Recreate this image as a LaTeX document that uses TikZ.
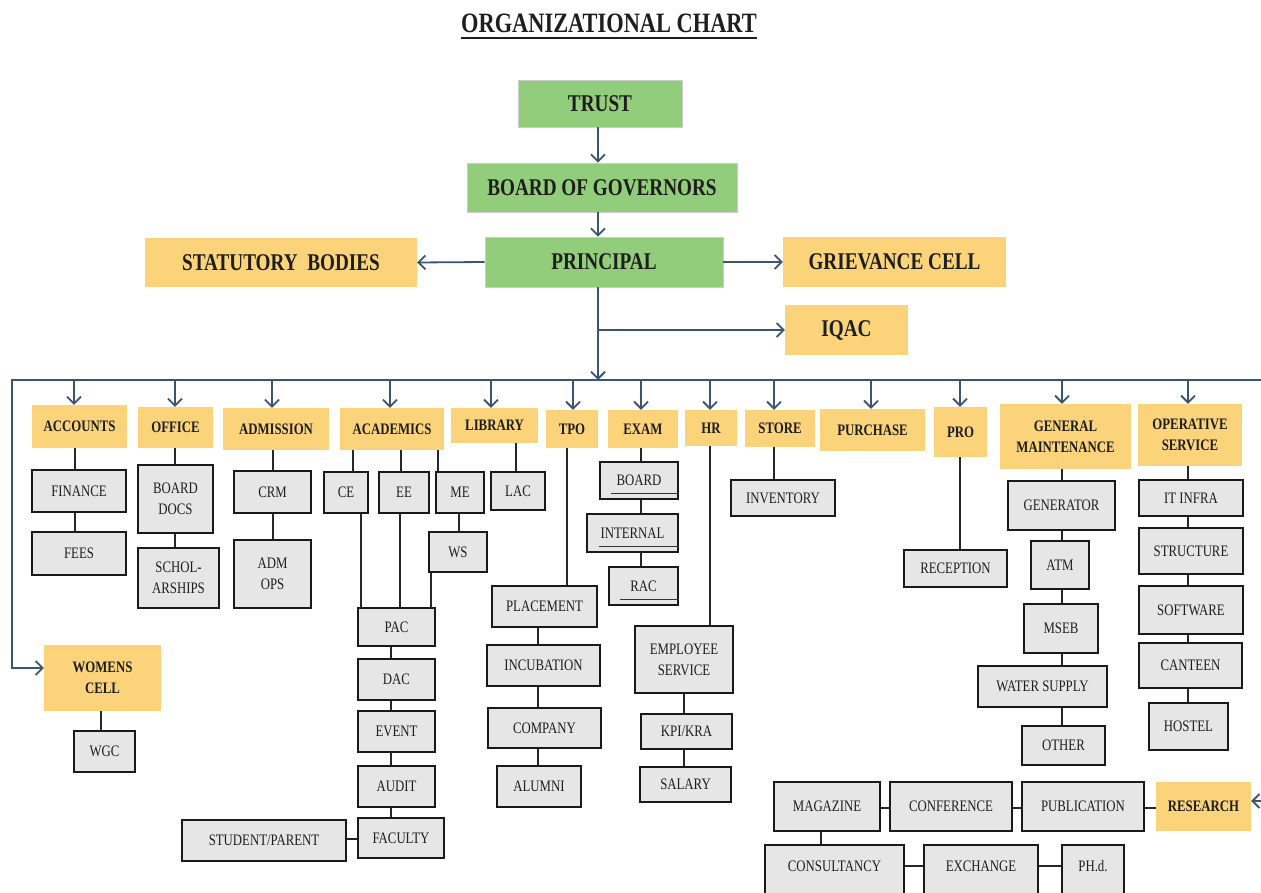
\documentclass[tikz,border=0pt]{standalone}
\usepackage{fontspec}
\setmainfont{Liberation Serif}[FakeStretch=0.8]
\usetikzlibrary{arrows.meta,calc}
\definecolor{gfill}{RGB}{146,205,123}
\definecolor{ofill}{RGB}{250,211,122}
\definecolor{bfill}{RGB}{230,230,230}
\definecolor{barr}{RGB}{58,84,116}
\definecolor{tcol}{RGB}{30,30,30}
\newcommand\bx[7]{\node[#1, minimum width={(#5)-(#3)}, minimum height={(#6)-(#4)}] (#2) at ({((#3)+(#5))/2},{((#4)+(#6))/2}) {#7};}
\newcommand\vlink[3]{\draw[link] (#1.south -| #3,0) -- (#2.north -| #3,0);}
\newcommand\hlink[3]{\draw[link] (#1.west |- 0,#3) -- (#2.east |- 0,#3);}
\newcommand\drop[2]{\draw[arr] (busL -| #2,0) -- (#1.north -| #2,0);}
\begin{document}
\begin{tikzpicture}[x=1pt,y=-1pt,
 greenbox/.style={fill=gfill,draw=black!20,line width=0.8pt,inner sep=0pt,align=center,font=\fontsize{24}{28}\selectfont\bfseries,text=tcol},
 bigorange/.style={fill=ofill,inner sep=0pt,align=center,font=\fontsize{24}{28}\selectfont\bfseries,text=tcol},
 orangebox/.style={fill=ofill,inner sep=0pt,align=center,font=\fontsize{16}{21}\selectfont\bfseries,text=tcol},
 greybox/.style={fill=bfill,draw=black!90,line width=2.5pt,inner sep=0pt,align=center,font=\fontsize{16}{21}\selectfont,text=tcol},
 lowtext/.style={text depth=18pt},
 arr/.style={draw=barr,line width=1.8pt,-{Straight Barb[length=7pt,width=14pt,line width=1.8pt]}},
 link/.style={draw=black!85,line width=2pt},
 uline/.style={draw=black!80,line width=1.2pt}]
\useasboundingbox (0,0) rectangle (1261,893);
\clip (0,0) rectangle (1261,893);
\fill[white] (0,0) rectangle (1261,893);

% title
\node[font=\fontsize{28}{32}\selectfont\bfseries,text=tcol,inner sep=0pt,anchor=base] (title) at (609,33) {ORGANIZATIONAL CHART};
\draw[tcol,line width=2pt] ($(title.base west)+(0,5)$) -- ($(title.base east)+(0,5)$);

% top
\bx{greenbox}{trust}{518}{80}{682}{127}{TRUST}
\bx{greenbox}{bog}{467}{163}{737}{212}{BOARD OF GOVERNORS}
\bx{greenbox}{prin}{485}{237}{723}{287}{PRINCIPAL}
\bx{bigorange}{stat}{145}{238}{417}{287}{STATUTORY\ \ BODIES}
\bx{bigorange}{griev}{783}{237}{1006}{287}{GRIEVANCE CELL}
\bx{bigorange}{iqac}{785}{305}{908}{355}{IQAC}

% departments
\bx{orangebox}{acc}{32}{405}{127}{448}{ACCOUNTS}
\bx{orangebox}{off}{138}{407}{213}{448}{OFFICE}
\bx{orangebox}{adm}{223}{408}{329}{450}{ADMISSION}
\bx{orangebox}{acad}{340}{408}{444}{450}{ACADEMICS}
\bx{orangebox}{lib}{451}{408}{538}{443}{LIBRARY}
\bx{orangebox}{tpo}{546}{410}{598}{448}{TPO}
\bx{orangebox}{exam}{608}{410}{678}{448}{EXAM}
\bx{orangebox}{hr}{685}{410}{737}{446}{HR}
\bx{orangebox}{store}{745}{410}{815}{447}{STORE}
\bx{orangebox}{pur}{820}{409}{925}{451}{PURCHASE}
\bx{orangebox}{pro}{934}{407}{987}{457}{PRO}
\bx{orangebox}{gm}{1000}{404}{1131}{469}{GENERAL\\MAINTENANCE}
\bx{orangebox}{ops}{1138}{404}{1242}{466}{OPERATIVE\\SERVICE}
\bx{orangebox}{wom}{44}{645}{161}{711}{WOMENS\\CELL}
\bx{orangebox}{res}{1156}{782}{1251}{831}{RESEARCH}

% sub units
\bx{greybox}{fin}{32}{470}{126}{512}{FINANCE}
\bx{greybox}{fees}{32}{532}{126}{575}{FEES}
\bx{greybox}{bdocs}{138}{465}{213}{533}{BOARD\\DOCS}
\bx{greybox}{schol}{138}{548}{219}{608}{SCHOL-\\ARSHIPS}
\bx{greybox}{crm}{234}{471}{311}{513}{CRM}
\bx{greybox}{admops}{234}{540}{311}{608}{ADM\\OPS}
\bx{greybox}{ce}{324}{472}{368}{513}{CE}
\bx{greybox}{ee}{379}{472}{429}{513}{EE}
\bx{greybox}{me}{436}{472}{484}{513}{ME}
\bx{greybox}{ws}{429}{532}{487}{572}{WS}
\bx{greybox}{lac}{491}{472}{545}{510}{LAC}
\bx{greybox}{pac}{358}{608}{435}{646}{PAC}
\bx{greybox}{dac}{358}{659}{435}{700}{DAC}
\bx{greybox}{event}{358}{711}{435}{752}{EVENT}
\bx{greybox}{audit}{358}{766}{435}{807}{AUDIT}
\bx{greybox}{fac}{358}{818}{444}{858}{FACULTY}
\bx{greybox}{stud}{182}{820}{346}{861}{STUDENT/PARENT}
\bx{greybox}{place}{492}{586}{597}{627}{PLACEMENT}
\bx{greybox}{incub}{487}{645}{600}{686}{INCUBATION}
\bx{greybox}{comp}{488}{708}{601}{748}{COMPANY}
\bx{greybox}{alum}{497}{766}{581}{807}{ALUMNI}
\bx{greybox}{board}{600}{462}{678}{499}{BOARD}
\bx{greybox}{internal}{587}{514}{678}{552}{INTERNAL}
\bx{greybox}{rac}{609}{567}{678}{605}{RAC}
\bx{greybox}{emp}{635}{626}{733}{693}{EMPLOYEE\\SERVICE}
\bx{greybox}{kpi}{641}{714}{732}{749}{KPI/KRA}
\bx{greybox}{sal}{640}{767}{731}{802}{SALARY}
\bx{greybox}{inv}{731}{480}{835}{516}{INVENTORY}
\bx{greybox}{recep}{904}{550}{1007}{587}{RECEPTION}
\bx{greybox}{gen}{1008}{481}{1115}{530}{GENERATOR}
\bx{greybox}{atm}{1031}{541}{1089}{589}{ATM}
\bx{greybox}{mseb}{1024}{604}{1098}{653}{MSEB}
\bx{greybox}{water}{978}{666}{1107}{707}{WATER SUPPLY}
\bx{greybox}{other}{1022}{726}{1105}{765}{OTHER}
\bx{greybox}{itinfra}{1139}{480}{1243}{516}{IT INFRA}
\bx{greybox}{struct}{1139}{528}{1243}{574}{STRUCTURE}
\bx{greybox}{soft}{1139}{586}{1243}{634}{SOFTWARE}
\bx{greybox}{cant}{1139}{643}{1242}{688}{CANTEEN}
\bx{greybox}{hostel}{1149}{703}{1228}{750}{HOSTEL}
\bx{greybox}{wgc}{74}{731}{135}{772}{WGC}
\bx{greybox}{mag}{774}{782}{880}{831}{MAGAZINE}
\bx{greybox}{conf}{890}{782}{1012}{831}{CONFERENCE}
\bx{greybox}{pub}{1022}{782}{1144}{831}{PUBLICATION}
\bx{greybox,lowtext}{cons}{765}{845}{904}{905}{CONSULTANCY}
\bx{greybox,lowtext}{exch}{924}{845}{1038}{905}{EXCHANGE}
\bx{greybox,lowtext}{phd}{1062}{845}{1124}{905}{PH.d.}

% underlines in exam boxes
\draw[uline] ($(board.south west)+(12,-7)$) -- ($(board.south east)+(0,-7)$);
\draw[uline] ($(internal.south west)+(13,-7)$) -- ($(internal.south east)+(0,-7)$);
\draw[uline] ($(rac.south west)+(12,-7)$) -- ($(rac.south east)+(0,-7)$);

% top arrows
\draw[arr] (trust.south -| 598,0) -- (bog.north -| 598,0);
\draw[arr] (bog.south -| 598,0) -- (prin.north -| 598,0);
\draw[arr] (prin.west) -- (stat.east);
\draw[arr] (prin.east) -- (griev.west);
\coordinate (busL) at (12,380);
\coordinate (busR) at (1261,380);
\draw[arr] (prin.south -| 598,0) -- (busL -| 598,0);
\draw[arr] (iqac.west -| 598,0) -- (iqac.west);

% bus
\draw[arr] (busR) -- (busL) |- ($(wom.west)+(0,-10)$);
\drop{acc}{74}
\drop{off}{175}
\drop{adm}{272}
\drop{acad}{390}
\drop{lib}{491}
\drop{tpo}{573}
\drop{exam}{641}
\drop{hr}{710}
\drop{store}{774}
\drop{pur}{871}
\drop{pro}{960}
\drop{gm}{1062}
\drop{ops}{1188}
\coordinate (resR) at (1261,801);
\draw[arr] (resR) -- (res.east |- resR);

% links
\vlink{acc}{fin}{75}
\vlink{fin}{fees}{75}
\vlink{off}{bdocs}{175}
\vlink{bdocs}{schol}{175}
\vlink{adm}{crm}{273}
\vlink{crm}{admops}{273}
\vlink{acad}{ce}{353}
\vlink{acad}{ee}{401}
\vlink{acad}{me}{438}
\vlink{ce}{pac}{361}
\vlink{ee}{pac}{400}
\vlink{ws}{pac}{431}
\vlink{me}{ws}{459}
\vlink{lib}{lac}{516}
\vlink{pac}{dac}{391}
\vlink{dac}{event}{391}
\vlink{event}{audit}{391}
\vlink{audit}{fac}{391}
\hlink{fac}{stud}{839}
\vlink{tpo}{place}{567}
\vlink{place}{incub}{538}
\vlink{incub}{comp}{538}
\vlink{comp}{alum}{538}
\vlink{exam}{board}{641}
\vlink{board}{internal}{641}
\vlink{internal}{rac}{641}
\vlink{hr}{emp}{710}
\vlink{emp}{kpi}{684}
\vlink{kpi}{sal}{684}
\vlink{store}{inv}{774}
\vlink{pro}{recep}{960}
\vlink{gm}{gen}{1062}
\vlink{gen}{atm}{1062}
\vlink{atm}{mseb}{1062}
\vlink{mseb}{water}{1062}
\vlink{water}{other}{1062}
\vlink{ops}{itinfra}{1188}
\vlink{itinfra}{struct}{1188}
\vlink{struct}{soft}{1188}
\vlink{soft}{cant}{1188}
\vlink{cant}{hostel}{1188}
\vlink{wom}{wgc}{101}
\hlink{res}{pub}{808}
\hlink{pub}{conf}{808}
\hlink{conf}{mag}{808}
\vlink{mag}{cons}{821}
\draw[link] (cons.east |- 0,866) -- (exch.west |- 0,866);
\draw[link] (exch.east |- 0,866) -- (phd.west |- 0,866);
\end{tikzpicture}
\end{document}
